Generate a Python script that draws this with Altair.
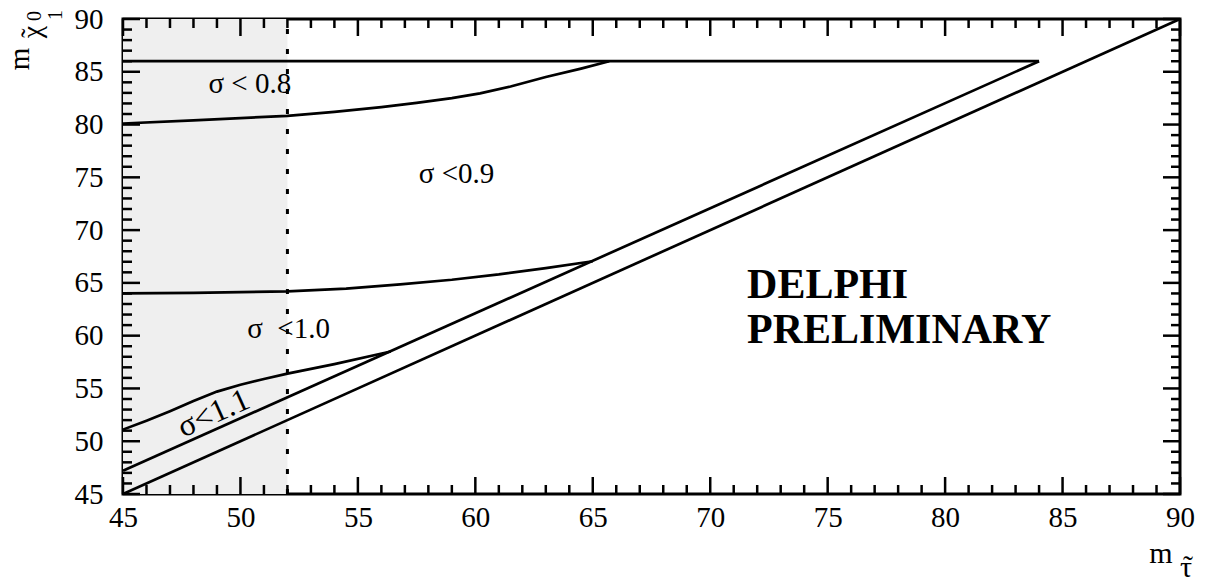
import altair as alt
import pandas as pd

# ---------------- data ----------------
diag1_x = [45, 90]
diag1_y = [45, 90]
diag2_x = [45, 84]
diag2_y = [47.2, 86]
top_x = [45, 84]
top_y = [86, 86]
c08_x = [45, 48, 52, 54, 56, 57.5, 59, 60.2, 61.5, 63, 64.5, 65.7]
c08_y = [80.1, 80.4, 80.83, 81.2, 81.65, 82.05, 82.5, 82.96, 83.6, 84.5, 85.3, 86.0]
c09_x = [45, 48, 52, 54.5, 56.8, 59, 61, 63, 65]
c09_y = [64.0, 64.05, 64.2, 64.45, 64.86, 65.3, 65.8, 66.4, 67.05]
c11_x = [45, 46, 47, 48, 49, 50, 51, 52, 54, 56.4]
c11_y = [51.1, 51.95, 52.85, 53.8, 54.7, 55.35, 55.9, 56.4, 57.3, 58.5]
band_x = [45, 52]
band_y = [45, 90]
cut_x = 52

major_ticks = [45, 50, 55, 60, 65, 70, 75, 80, 85, 90]
minor_ticks = [v for v in range(45, 91) if v % 5 != 0]

labels_text = ["σ < 0.8", "σ <0.9", "σ\u2002<1.0"]
labels_x = [50.4, 59.2, 52.05]
labels_y = [82.95, 74.45, 59.75]

W, H = 1057, 475
FONT = "Liberation Serif"
FS = 29

def curve(xs, ys, name):
    return pd.DataFrame({"x": xs, "y": ys, "c": name, "o": range(len(xs))})

lines_df = pd.concat([
    curve(diag1_x, diag1_y, "d1"),
    curve(diag2_x, diag2_y, "d2"),
    curve(top_x, top_y, "top"),
    curve(c08_x, c08_y, "c08"),
    curve(c09_x, c09_y, "c09"),
    curve(c11_x, c11_y, "c11"),
])

xs = alt.Scale(domain=[45, 90], nice=False, zero=False)
ys = alt.Scale(domain=[45, 90], nice=False, zero=False)

xaxis = alt.Axis(values=major_ticks, ticks=False, domain=False, grid=False, title=None,
                 labelFont=FONT, labelFontSize=FS, labelColor="black", labelPadding=9,
                 labelFlush=False, labelOverlap=False, format="d")
yaxis = alt.Axis(values=major_ticks, ticks=False, domain=False, grid=False, title=None,
                 labelFont=FONT, labelFontSize=FS, labelColor="black", labelPadding=20,
                 labelFlush=False, labelOverlap=False, format="d")

band = alt.Chart(pd.DataFrame({"x": [band_x[0]], "x2": [band_x[1]], "y": [band_y[0]], "y2": [band_y[1]]})).mark_rect(
    color="#efefef").encode(
    x=alt.X("x:Q", scale=xs, axis=xaxis), x2="x2", y=alt.Y("y:Q", scale=ys, axis=yaxis), y2="y2")

cut = alt.Chart(pd.DataFrame({"x": [cut_x], "y": [band_y[0]], "y2": [band_y[1]]})).mark_rule(
    color="black", strokeWidth=3, strokeDash=[5, 15]).encode(
    x=alt.X("x:Q", scale=xs), y=alt.Y("y:Q", scale=ys), y2="y2")

lines = alt.Chart(lines_df).mark_line(color="black", strokeWidth=2.7, clip=True).encode(
    x=alt.X("x:Q", scale=xs), y=alt.Y("y:Q", scale=ys), detail="c:N", order="o:Q")

maj_df = pd.DataFrame({"v": major_ticks})
min_df = pd.DataFrame({"v": minor_ticks})

def ticks(df, L):
    b = alt.Chart(df).mark_rule(color="black", strokeWidth=2.5).encode(
        x=alt.X("v:Q", scale=xs), y=alt.value(H), y2=alt.value(H - L))
    t = alt.Chart(df).mark_rule(color="black", strokeWidth=2.5).encode(
        x=alt.X("v:Q", scale=xs), y=alt.value(0), y2=alt.value(L))
    l = alt.Chart(df).mark_rule(color="black", strokeWidth=2.5).encode(
        y=alt.Y("v:Q", scale=ys), x=alt.value(0), x2=alt.value(L))
    r = alt.Chart(df).mark_rule(color="black", strokeWidth=2.5).encode(
        y=alt.Y("v:Q", scale=ys), x=alt.value(W), x2=alt.value(W - L))
    return [b, t, l, r]

tick_layers = ticks(maj_df, 17) + ticks(min_df, 9)

lab_df = pd.DataFrame({"t": labels_text, "x": labels_x, "y": labels_y})
labs = alt.Chart(lab_df).mark_text(font=FONT, fontSize=FS, color="black", align="center",
                                   baseline="alphabetic").encode(
    x=alt.X("x:Q", scale=xs), y=alt.Y("y:Q", scale=ys), text="t:N")

lab11 = alt.Chart(pd.DataFrame({"t": ["σ<1.1"], "x": [48.85], "y": [52.65]})).mark_text(
    font=FONT, fontSize=32, color="black", align="center", baseline="middle", angle=335.8).encode(
    x=alt.X("x:Q", scale=xs), y=alt.Y("y:Q", scale=ys), text="t:N")

delphi = alt.Chart(pd.DataFrame({"t": ["DELPHI", "PRELIMINARY"], "x": [71.57, 71.57], "y": [63.57, 59.31]})).mark_text(
    font=FONT, fontSize=42, fontWeight="bold", color="black", align="left", baseline="alphabetic").encode(
    x=alt.X("x:Q", scale=xs), y=alt.Y("y:Q", scale=ys), text="t:N")

# axis titles (pixel placed relative to plot origin)
def ptext(t, x, y, fs, angle=0, align="center", baseline="alphabetic"):
    kw = dict(font=FONT, fontSize=fs, color="black", align=align, baseline=baseline, text=t)
    if angle:
        kw["angle"] = angle
    return alt.Chart(pd.DataFrame({"a": [0]})).mark_text(**kw).encode(x=alt.value(x), y=alt.value(y))

titles = [
    # x title: m with subscript tau-tilde
    ptext("m", 1038, 544, 30),
    ptext("τ", 1063, 558, 30),
    ptext("\u02dc", 1065, 557, 30),
    # y title: m with subscript chi-tilde 0/1
    ptext("m", -94, 40, 29, angle=270),
    ptext("χ", -82, 13, 28, angle=270),
    ptext("\u02dc", -83, 14, 28, angle=270),
    ptext("0", -82, -3, 20, angle=270),
    ptext("1", -61, -4, 20, angle=270),
]

chart = alt.layer(band, cut, lines, *tick_layers, labs, lab11, delphi, *titles).properties(
    width=W, height=H,
    autosize=alt.AutoSizeParams(type="none"),
    padding={"left": 115, "top": 11, "right": 20, "bottom": 90},
).configure_view(stroke="black", strokeWidth=3)

chart.save("out.html", embed_options={"renderer": "svg", "actions": False})
